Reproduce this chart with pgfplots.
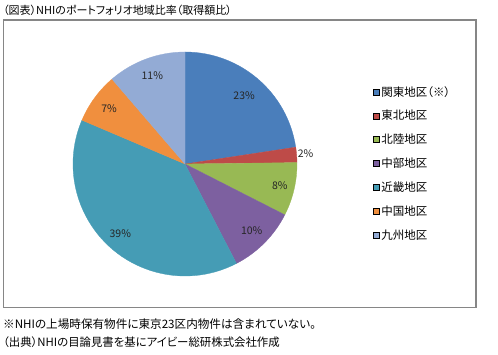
\documentclass[border=0pt]{standalone}
\usepackage{fontspec}
\usepackage{pgfplots}
\pgfplotsset{compat=1.18}
\usepackage{pgfplotstable}
\setmainfont{Noto Sans CJK JP}[RawFeature={+palt}]
\definecolor{slice0}{HTML}{4A7EBB}
\definecolor{slice1}{HTML}{BE4B48}
\definecolor{slice2}{HTML}{98B954}
\definecolor{slice3}{HTML}{7D60A0}
\definecolor{slice4}{HTML}{459CB5}
\definecolor{slice5}{HTML}{F08F3E}
\definecolor{slice6}{HTML}{93ABD5}
\definecolor{frame}{HTML}{868686}
% value (share, %), printed label, label radius factor
\pgfplotstableread{
value lab lr
22.6 23 0.81
2.2 2 1.08
7.7 8 0.87
9.9 10 0.84
39.0 39 0.85
7.3 7 0.84
11.3 11 0.84
}\piedata
\pgfmathsetmacro\angacc{90}
\pgfplotsforeachungrouped \i in {0,...,6}{%
  \pgfplotstablegetelem{\i}{value}\of\piedata
  \pgfmathsetmacro\tmpE{\angacc-3.6*\pgfplotsretval}%
  \expandafter\xdef\csname sa\i\endcsname{\angacc}%
  \expandafter\xdef\csname ea\i\endcsname{\tmpE}%
  \pgfmathsetmacro\tmpM{(\angacc+\tmpE)/2}%
  \expandafter\xdef\csname ma\i\endcsname{\tmpM}%
  \pgfplotstablegetelem{\i}{lab}\of\piedata
  \expandafter\xdef\csname lb\i\endcsname{\pgfplotsretval}%
  \pgfplotstablegetelem{\i}{lr}\of\piedata
  \pgfmathsetmacro\tmpR{112*\pgfplotsretval}%
  \expandafter\xdef\csname lr\i\endcsname{\tmpR}%
  \xdef\angacc{\tmpE}%
}
\begin{document}
\begin{tikzpicture}[x=1pt,y=1pt]
\path[use as bounding box] (0,0) rectangle (498,355);
\draw[color=frame, line width=1.3pt] (3.5,335) rectangle (476,47.5);
\node[anchor=west, inner sep=0pt, font=\fontsize{11}{13}\selectfont] at (3,345) {（図表）NHIのポートフォリオ地域比率（取得額比）};
\begin{axis}[
  hide axis,
  x=1pt, y=1pt,
  xmin=-112, xmax=112, ymin=-112, ymax=112,
  at={(185,191)}, anchor=center,
  clip=false,
  legend image code/.code={\fill[#1] (0pt,-3pt) rectangle (6pt,3pt);},
  legend style={draw=none, fill=none, at={(1.34,0.855)}, anchor=north west,
    font=\fontsize{11.5}{13}\selectfont, row sep=9.7pt, inner sep=0pt,
    nodes={inner sep=1.5pt}},
  legend cell align=left,
]
\pgfplotsinvokeforeach{0,...,6}{
  \filldraw[fill=slice#1, draw=slice#1, line width=0.3pt]
    (axis cs:0,0) -- +(\csname sa#1\endcsname:112pt)
    arc[start angle=\csname sa#1\endcsname, end angle=\csname ea#1\endcsname, radius=112pt] -- cycle;
}
\pgfplotsinvokeforeach{0,...,6}{
  \path (axis cs:0,0) ++(\csname ma#1\endcsname:\csname lr#1\endcsname pt)
    node[font=\fontsize{10.5}{12}\selectfont, text=black!85] {\csname lb#1\endcsname\%};
}
\addlegendimage{fill=slice0}
\addlegendimage{fill=slice1}
\addlegendimage{fill=slice2}
\addlegendimage{fill=slice3}
\addlegendimage{fill=slice4}
\addlegendimage{fill=slice5}
\addlegendimage{fill=slice6}
\legend{関東地区（※）,東北地区,北陸地区,中部地区,近畿地区,中国地区,九州地区}
\end{axis}
\node[anchor=west, inner sep=0pt, font=\fontsize{11.6}{13}\selectfont] at (3,31) {※NHIの上場時保有物件に東京23区内物件は含まれていない。};
\node[anchor=west, inner sep=0pt, font=\fontsize{11.4}{13}\selectfont] at (3,13) {（出典）NHIの目論見書を基にアイビー総研株式会社作成};
\end{tikzpicture}
\end{document}
